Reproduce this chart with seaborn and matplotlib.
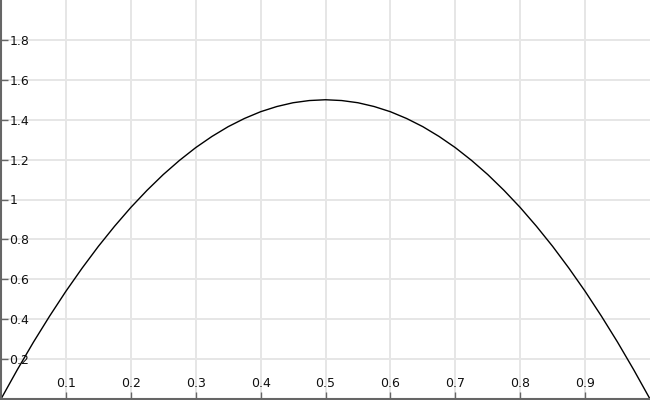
import matplotlib
matplotlib.use("Agg")
import matplotlib.pyplot as plt
import seaborn as sns
import pandas as pd
from matplotlib.ticker import FuncFormatter

# values
x_vals = [0.0, 0.025, 0.05, 0.075, 0.1, 0.125, 0.15, 0.175, 0.2, 0.225, 0.25,
          0.275, 0.3, 0.325, 0.35, 0.375, 0.4, 0.425, 0.45, 0.475, 0.5,
          0.525, 0.55, 0.575, 0.6, 0.625, 0.65, 0.675, 0.7, 0.725, 0.75,
          0.775, 0.8, 0.825, 0.85, 0.875, 0.9, 0.925, 0.95, 0.975, 1.0]
y_vals = [0.0, 0.146, 0.285, 0.416, 0.54, 0.656, 0.765, 0.866, 0.96, 1.046, 1.125,
          1.196, 1.26, 1.316, 1.365, 1.406, 1.44, 1.466, 1.485, 1.496, 1.5,
          1.496, 1.485, 1.466, 1.44, 1.406, 1.365, 1.316, 1.26, 1.196, 1.125,
          1.046, 0.96, 0.866, 0.765, 0.656, 0.54, 0.416, 0.285, 0.146, 0.0]
x_ticks = [0.1, 0.2, 0.3, 0.4, 0.5, 0.6, 0.7, 0.8, 0.9]
y_ticks = [0.2, 0.4, 0.6, 0.8, 1.0, 1.2, 1.4, 1.6, 1.8]

df = pd.DataFrame({"x": x_vals, "y": y_vals})

sns.set_theme(style="white")
plt.rcParams['font.family'] = ['DejaVu Sans']

W, H = 650.0, 400.0
fig = plt.figure(figsize=(6.5, 4.0), dpi=100)
# inset by a pixel so the tick markers on the spines are not culled at the canvas edge
ax = fig.add_axes([1.0 / W, 1.0 / H, 1 - 1.0 / W, 1 - 1.0 / H])

sns.lineplot(data=df, x="x", y="y", sort=False, color="black", linewidth=1.0, ax=ax)

ax.set_xlim(0, 1)
ax.set_ylim(0, 2)
ax.set_xticks(x_ticks)
ax.set_yticks(y_ticks)
fmt = FuncFormatter(lambda v, p: "%g" % round(v, 3))
ax.xaxis.set_major_formatter(fmt)
ax.yaxis.set_major_formatter(fmt)
ax.set_xlabel("")
ax.set_ylabel("")

ax.grid(True, color="#e6e6e6", linewidth=1.4)
ax.set_axisbelow(True)

for side in ["top", "right"]:
    ax.spines[side].set_visible(False)
for side in ["left", "bottom"]:
    ax.spines[side].set_color("#666666")
    ax.spines[side].set_linewidth(1.5)

ax.tick_params(axis="y", left=True, direction="in", length=5, width=1, color="#666666",
               pad=-6, labelsize=9, labelcolor="#111111")
ax.tick_params(axis="x", bottom=True, direction="in", length=5, width=1, color="#666666",
               pad=-6.5, labelsize=9, labelcolor="#111111")
for lab in ax.get_yticklabels():
    lab.set_horizontalalignment("left")
for lab in ax.get_xticklabels():
    lab.set_verticalalignment("bottom")

fig.savefig("out.png", dpi=100)
